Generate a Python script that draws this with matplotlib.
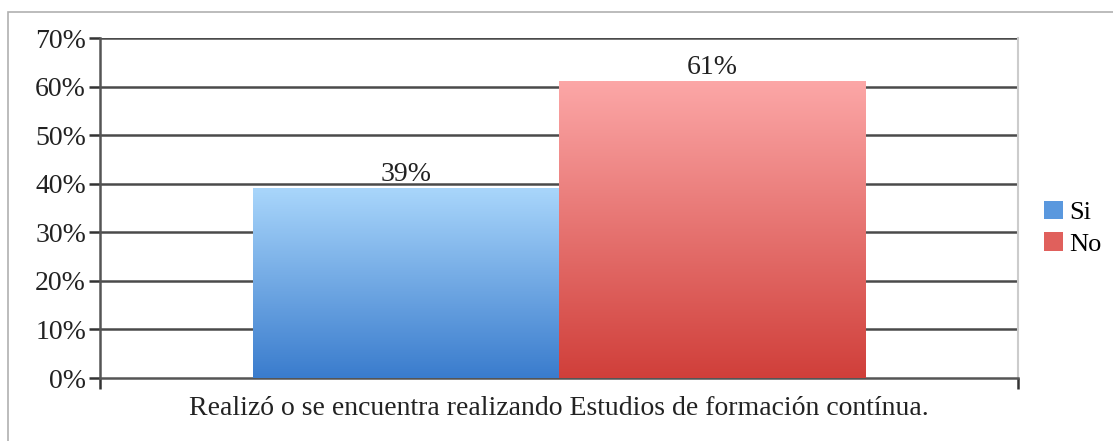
import matplotlib.pyplot as plt
from matplotlib.patches import Rectangle
from matplotlib.colors import to_rgb
import numpy as np

categories = ['Realizó o se encuentra realizando Estudios de formación contínua.']
series = ['Si', 'No']
values = [0.39, 0.61]
labels = ['39%', '61%']
ticks = [0, 0.1, 0.2, 0.3, 0.4, 0.5, 0.6, 0.7]
tick_labels = ['0%', '10%', '20%', '30%', '40%', '50%', '60%', '70%']

# gradient colours, top -> bottom
grads = [('#a9d6fb', '#3a7ccd'), ('#fca7a7', '#d03f3a')]
solid = ['#5a98de', '#e0605c']

plt.rcParams['font.family'] = ['Liberation Serif', 'DejaVu Serif']

fig = plt.figure(figsize=(11.13, 4.41), dpi=100)
fig.patches.append(Rectangle((8/1113, -0.1), 1.2, (441-12)/441 + 0.1, transform=fig.transFigure,
                             fill=False, edgecolor='#b0b0b0', lw=1.2))
ax = fig.add_axes([100/1113, 63/441, 918/1113, 340/441])

ax.set_yticks(ticks)
ax.set_yticklabels(tick_labels, fontsize=20, color='#222222')
for t in ticks[1:]:
    ax.axhline(t, color='#4a4a4a', lw=1.8, zorder=1)

width = 0.3335
offsets = [-width/2, width/2]
for i, (s, v) in enumerate(zip(series, values)):
    b = ax.bar(offsets[i], v, width=width, color=solid[i], label=s, zorder=2, lw=0)[0]
    c1 = np.array(to_rgb(grads[i][0]))
    c2 = np.array(to_rgb(grads[i][1]))
    f = np.linspace(0, 1, 256)[:, None]
    img = (c1 * (1 - f) + c2 * f)[:, None, :]
    x0 = b.get_x()
    ax.imshow(img, extent=[x0, x0 + width, 0, v], origin='upper', aspect='auto',
              zorder=3, interpolation='bilinear')
    ax.text(offsets[i], v + 0.003, labels[i], ha='center', va='bottom', fontsize=20,
            color='#222222', zorder=4)
ax.set_xlim(-0.5, 0.5)
ax.set_ylim(0, 0.7)

ax.set_xticks([-0.5, 0.5])
ax.set_xticklabels(['', ''])
ax.tick_params(axis='x', length=8, width=1.8, color='#333333', direction='out')
ax.tick_params(axis='y', length=8, width=1.8, color='#333333', direction='out', pad=2)
ax.text(0, -0.038, categories[0], ha='center', va='top', fontsize=20, color='#222222')

for sp in ['left', 'bottom']:
    ax.spines[sp].set_color('#555555')
    ax.spines[sp].set_linewidth(1.8)
ax.spines['top'].set_visible(False)
ax.spines['right'].set_color('#cccccc')
ax.spines['right'].set_linewidth(1.5)

leg = ax.legend(loc='center left', bbox_to_anchor=(1.017, 0.44), frameon=False,
                fontsize=19, handlelength=0.7, handleheight=0.7, handletextpad=0.25,
                labelspacing=0.3, borderaxespad=0)

fig.savefig('out.png', dpi=100)
